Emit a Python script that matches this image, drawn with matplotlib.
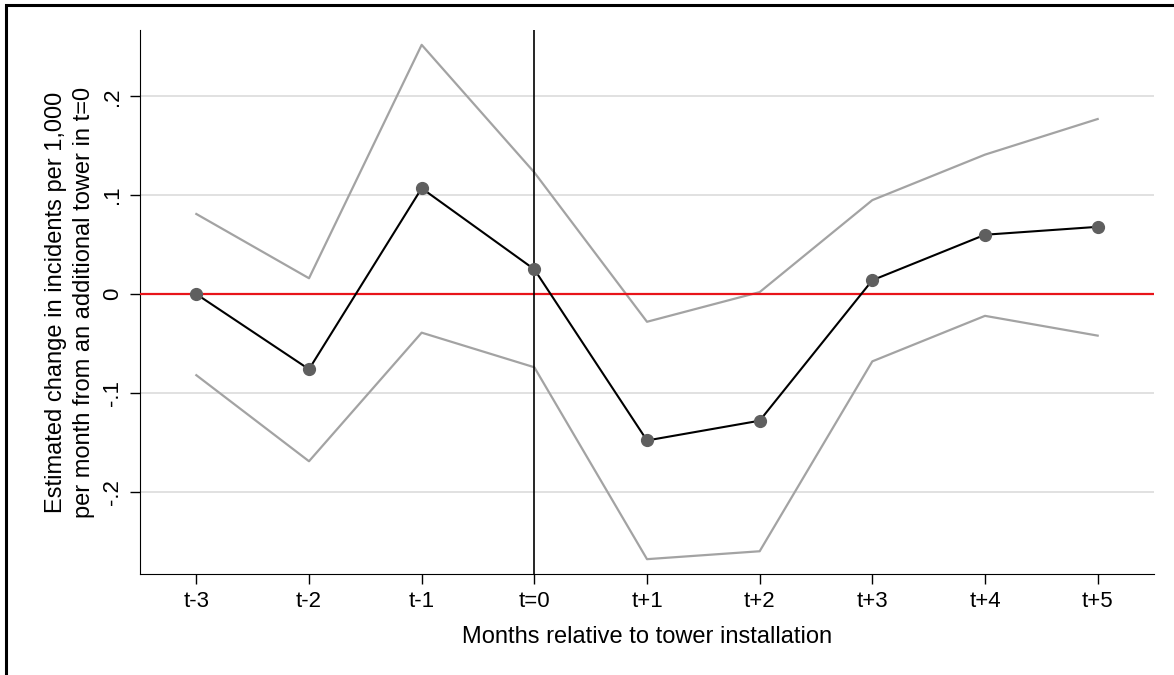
import matplotlib.pyplot as plt
from matplotlib.patches import Rectangle

plt.rcParams['font.family'] = ['Liberation Sans', 'DejaVu Sans']

# Event-study estimates and 95% bounds
months = ['t-3', 't-2', 't-1', 't=0', 't+1', 't+2', 't+3', 't+4', 't+5']
coef = [0.0, -0.076, 0.107, 0.025, -0.148, -0.128, 0.014, 0.060, 0.068]
upper = [0.081, 0.016, 0.252, 0.123, -0.028, 0.002, 0.095, 0.141, 0.177]
lower = [-0.082, -0.169, -0.039, -0.074, -0.268, -0.260, -0.068, -0.022, -0.042]
yticks = [-0.2, -0.1, 0, 0.1, 0.2]
ytick_labels = ['-.2', '-.1', '0', '.1', '.2']

fig = plt.figure(figsize=(11.74, 6.75), dpi=100)
ax = fig.add_axes([140/1174, 1 - 574/675, (1154 - 140)/1174, (574 - 30)/675])

x = list(range(len(months)))

# light horizontal grid
for yt in yticks:
    ax.axhline(yt, color='#dcdcdc', lw=1.2, zorder=0)

ax.plot(x, upper, color='#a3a3a3', lw=1.6, zorder=2)
ax.plot(x, lower, color='#a3a3a3', lw=1.6, zorder=2)
ax.axhline(0, color='#e8141a', lw=1.6, zorder=3)
ax.axvline(3, color='black', lw=1.2, zorder=3)
ax.plot(x, coef, color='black', lw=1.5, marker='o', markersize=8.5,
        markerfacecolor='#5f5f5f', markeredgecolor='#5f5f5f', zorder=4)

ax.set_xlim(-0.5, 8.5)
ax.set_ylim(-0.283, 0.267)
ax.set_xticks(x)
ax.set_xticklabels(months, fontsize=16)
ax.set_yticks(yticks)
ax.set_yticklabels(ytick_labels, fontsize=16, rotation=90, va='center')

ax.spines['top'].set_visible(False)
ax.spines['right'].set_visible(False)
ax.tick_params(length=7, width=1.0, pad=5)

ax.set_xlabel('Months relative to tower installation', fontsize=17, labelpad=10)
ax.set_ylabel('Estimated change in incidents per 1,000\n'
              'per month from an additional tower in t=0', fontsize=17,
              labelpad=5, linespacing=1.35)

# outer frame of the exported graph
fig.patches.append(Rectangle((6/1174, -0.1), 1.2, 1 - 5/675 + 0.1, transform=fig.transFigure,
                             fill=False, edgecolor='black', lw=2.2))

fig.savefig('out.png', dpi=100)
